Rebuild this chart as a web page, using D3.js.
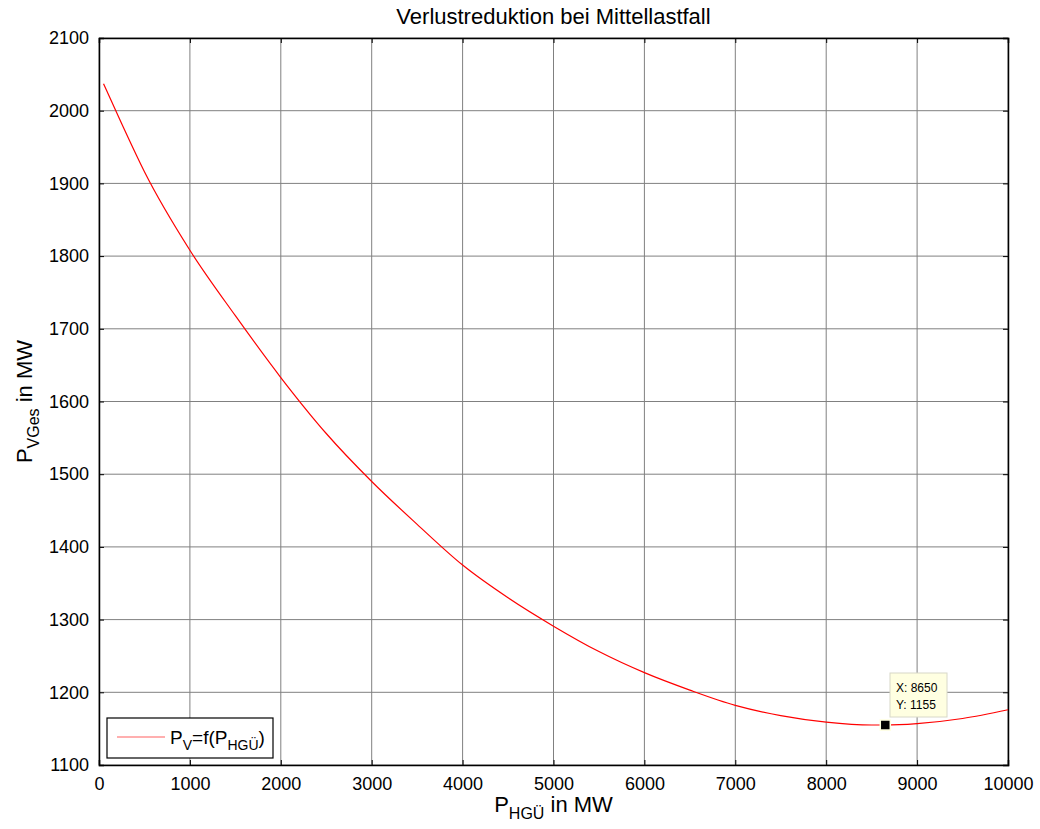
<!DOCTYPE html>
<html><head><meta charset="utf-8">
<script src="https://cdn.jsdelivr.net/npm/d3@7"></script>
<style>body{margin:0;background:#fff;} text{font-family:"Liberation Sans",Arial,sans-serif;}</style>
</head><body><svg id="c" width="1040" height="829"></svg>
<script>
const pHGU = [50, 250, 500, 1000, 1500, 2000, 2500, 3000, 3500, 4000, 4500, 5000, 5500, 6000, 6500, 7000, 7500, 8000, 8500, 8650, 9000, 9500, 10000];
const pVGes = [2037, 1982, 1916, 1808, 1718, 1633, 1556, 1490, 1431, 1375, 1330, 1291, 1256, 1227, 1203, 1182, 1168, 1159, 1155, 1155, 1157, 1164, 1176];
const xTicks = [0,1000,2000,3000,4000,5000,6000,7000,8000,9000,10000];
const yTicks = [1100,1200,1300,1400,1500,1600,1700,1800,1900,2000,2100];
const tipX = 8650, tipY = 1155;

const svg = d3.select('#c');
const L=99, R=1008, T=38, B=765;
const x = d3.scaleLinear().domain([0,10000]).range([L,R]);
const y = d3.scaleLinear().domain([1100,2100]).range([B,T]);

// grid
const g = svg.append('g');
g.selectAll('.gx').data(xTicks).enter().append('line')
 .attr('x1',d=>x(d)).attr('x2',d=>x(d)).attr('y1',T).attr('y2',B)
 .attr('stroke','#808080').attr('stroke-width',1);
g.selectAll('.gy').data(yTicks).enter().append('line')
 .attr('y1',d=>y(d)).attr('y2',d=>y(d)).attr('x1',L).attr('x2',R)
 .attr('stroke','#808080').attr('stroke-width',1);

// axes with inner ticks
const fs = '18px';
const ax = d3.axisBottom(x).tickValues(xTicks).tickSize(-5).tickPadding(12).tickFormat(d3.format('d'));
const ay = d3.axisLeft(y).tickValues(yTicks).tickSize(-5).tickPadding(10).tickFormat(d3.format('d'));
const gx = svg.append('g').attr('transform',`translate(0,${B})`).call(ax);
const gy = svg.append('g').attr('transform',`translate(${L},0)`).call(ay);
const gx2 = svg.append('g').attr('transform',`translate(0,${T})`).call(d3.axisTop(x).tickValues(xTicks).tickSize(-5).tickFormat(''));
const gy2 = svg.append('g').attr('transform',`translate(${R},0)`).call(d3.axisRight(y).tickValues(yTicks).tickSize(-5).tickFormat(''));
[gx,gy,gx2,gy2].forEach(a=>{
  a.select('.domain').attr('stroke','#000').attr('stroke-width',1.5);
  a.selectAll('.tick line').attr('stroke','#000');
  a.selectAll('text').attr('font-size',fs).attr('fill','#000').style('font-family','"Liberation Sans",Arial,sans-serif');
});

// curve
const line = d3.line().x((d,i)=>x(pHGU[i])).y(d=>y(d)).curve(d3.curveMonotoneX);
svg.append('path').datum(pVGes).attr('d',line).attr('fill','none').attr('stroke','#ff0000').attr('stroke-width',1.2);

// title
svg.append('text').attr('x',(L+R)/2).attr('y',24).attr('text-anchor','middle').attr('font-size','22px').text('Verlustreduktion bei Mittellastfall');

// x label
const xl = svg.append('text').attr('x',(L+R)/2).attr('y',812).attr('text-anchor','middle').attr('font-size','22px');
xl.append('tspan').text('P');
xl.append('tspan').attr('font-size','16px').attr('dy',7).text('HGÜ');
xl.append('tspan').attr('dy',-7).text(' in MW');

// y label
const yl = svg.append('text').attr('transform',`translate(32,${(T+B)/2}) rotate(-90)`).attr('text-anchor','middle').attr('font-size','22px');
yl.append('tspan').text('P');
yl.append('tspan').attr('font-size','16px').attr('dy',7).text('VGes');
yl.append('tspan').attr('dy',-7).text(' in MW');

// legend
const lg = svg.append('g');
lg.append('rect').attr('x',107).attr('y',718).attr('width',166).attr('height',40).attr('fill','#fff').attr('stroke','#000').attr('stroke-width',1.2);
lg.append('line').attr('x1',117).attr('x2',165).attr('y1',737).attr('y2',737).attr('stroke','#ff6060').attr('stroke-width',1.2);
const lt = lg.append('text').attr('x',170).attr('y',744).attr('font-size','19px');
lt.append('tspan').text('P');
lt.append('tspan').attr('font-size','14px').attr('dy',6).text('V');
lt.append('tspan').attr('dy',-6).text('=f(P');
lt.append('tspan').attr('font-size','14px').attr('dy',6).text('HGÜ');
lt.append('tspan').attr('dy',-6).text(')');

// data tip
svg.append('rect').attr('x',x(tipX)-5).attr('y',y(tipY)-5).attr('width',10).attr('height',10).attr('fill','#000').attr('stroke','#ffffe0').attr('stroke-width',1.5);
const tb = svg.append('g');
tb.append('rect').attr('x',890).attr('y',673).attr('width',57).attr('height',44).attr('fill','#ffffe1').attr('stroke','#d8d8c8');
tb.append('text').attr('x',896).attr('y',692).attr('font-size','12px').text('X: '+tipX);
tb.append('text').attr('x',896).attr('y',709).attr('font-size','12px').text('Y: '+tipY);
</script></body></html>
